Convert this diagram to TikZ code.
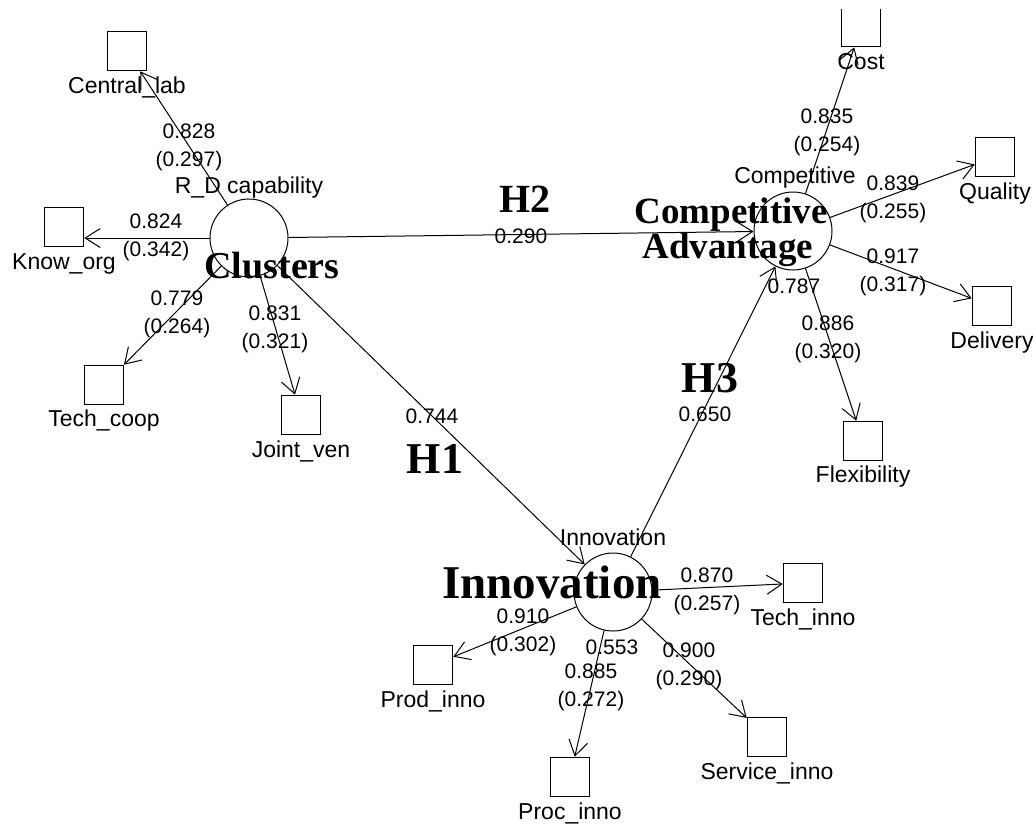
\documentclass[tikz,border=0pt]{standalone}
\usepackage{fontspec}
\setmainfont{Liberation Serif}
\setsansfont{Liberation Sans}
\usetikzlibrary{arrows.meta}

\tikzset{
  item/.style={draw, line width=1.6pt, minimum size=39pt, inner sep=0pt},
  construct/.style={draw, circle, line width=1pt, minimum size=78pt, inner sep=0pt},
  path line/.style={line width=1pt, -{Straight Barb[length=15pt,width=19pt,line width=1pt]}},
  tag/.style={font=\sffamily\fontsize{23}{27}\selectfont, anchor=base, inner sep=0pt},
  coef/.style={font=\sffamily\fontsize{21}{25}\selectfont, anchor=base, inner sep=0pt},
  bigname/.style={font=\bfseries\fontsize{38}{40}\selectfont, anchor=base, inner sep=0pt},
}

% loading (weight) pair: name, x, y of first baseline, loading, weight
\newcommand{\loading}[5]{%
  \node[coef] (#1l) at (#2,#3) {#4};
  \node[coef] (#1w) at (#2,#3+28) {(#5)};
}

\begin{document}
\begin{tikzpicture}[x=1pt,y=-1pt]
  \useasboundingbox (0,0) rectangle (1033,823);
  \clip (0,9) rectangle (1033,823);

  %%%%% constructs %%%%%
  \node[construct] (clu)  at (249,238) {};
  \node[construct] (comp) at (793,231) {};
  \node[construct] (inno) at (613,592) {};

  \node[tag] (clun)  at (249,193) {R\_D capability};
  \node[tag] (compn) at (795,183) {Competitive};
  \node[tag] (innon) at (613,545) {Innovation};

  %%%%% indicators %%%%%
  \node[item] (cl)   at (127,51)  {};
  \node[item] (ko)   at (64,227)  {};
  \node[item] (tc)   at (104,385) {};
  \node[item] (jv)   at (301,415) {};
  \node[item] (cost) at (861,27)  {};
  \node[item] (qual) at (995,157) {};
  \node[item] (del)  at (992,306) {};
  \node[item] (flex) at (863,441) {};
  \node[item] (ti)   at (803,583) {};
  \node[item] (pd)   at (433,665) {};
  \node[item] (pc)   at (570,777) {};
  \node[item] (sv)   at (767,737) {};

  \node[tag] (clt)   at ([yshift=-22pt]cl.south)   {Central\_lab};
  \node[tag] (kot)   at ([yshift=-22pt]ko.south)   {Know\_org};
  \node[tag] (tct)   at ([yshift=-21pt]tc.south)   {Tech\_coop};
  \node[tag] (jvt)   at ([yshift=-22pt]jv.south)   {Joint\_ven};
  \node[tag] (costt) at ([yshift=-22pt]cost.south) {Cost};
  \node[tag] (qualt) at ([yshift=-22pt]qual.south) {Quality};
  \node[tag] (delt)  at ([yshift=-22pt]del.south)  {Delivery};
  \node[tag] (flext) at ([yshift=-21pt]flex.south) {Flexibility};
  \node[tag] (tit)   at ([yshift=-22pt]ti.south)   {Tech\_inno};
  \node[tag] (pdt)   at ([yshift=-22pt]pd.south)   {Prod\_inno};
  \node[tag] (pct)   at ([yshift=-22pt]pc.south)   {Proc\_inno};
  \node[tag] (svt)   at ([yshift=-22pt]sv.south)   {Service\_inno};

  %%%%% outer model %%%%%
  \draw[path line] (clu) -- (cl);
  \draw[path line] (clu) -- (clu -| ko.east);
  \draw[path line] (clu) -- (tc);
  \draw[path line] (clu) -- (jv);
  \draw[path line] (comp) -- (cost);
  \draw[path line] (comp) -- (qual);
  \draw[path line] (comp) -- (del);
  \draw[path line] (comp) -- (flex);
  \draw[path line] (inno) -- (ti);
  \draw[path line] (inno) -- (pd);
  \draw[path line] (inno) -- (pc);
  \draw[path line] (inno) -- (sv);

  %%%%% inner model %%%%%
  \draw[path line] (clu) -- (comp);
  \draw[path line] (clu) -- (inno);
  \draw[path line] (inno) -- (comp);

  %%%%% coefficients %%%%%
  \loading{cl}{189}{138}{0.828}{0.297}
  \loading{ko}{156}{228}{0.824}{0.342}
  \loading{tc}{177}{305}{0.779}{0.264}
  \loading{jv}{275}{320}{0.831}{0.321}
  \loading{cost}{827}{123}{0.835}{0.254}
  \loading{qual}{893}{190}{0.839}{0.255}
  \loading{del}{893}{263}{0.917}{0.317}
  \loading{flex}{828}{330}{0.886}{0.320}
  \loading{ti}{707}{582}{0.870}{0.257}
  \loading{pd}{523}{623}{0.910}{0.302}
  \loading{pc}{591}{678}{0.885}{0.272}
  \loading{sv}{689}{657}{0.900}{0.290}

  \node[coef] (htwo)   at (521,243) {0.290};
  \node[coef] (hone)   at (432,423) {0.744};
  \node[coef] (hthree) at (705,421) {0.650};
  \node[coef] (rcomp)  at (794,293) {0.787};
  \node[coef] (rinno)  at (612,654) {0.553};

  %%%%% big names %%%%%
  \node[bigname] (club)   at (272,278) {Clusters};
  \node[bigname, font=\bfseries\fontsize{37}{40}\selectfont] (compb)  at (731,223) {Competitive};
  \node[bigname, font=\bfseries\fontsize{37}{40}\selectfont] (compb2) at (728,258) {Advantage};
  \node[bigname, font=\bfseries\fontsize{47}{50}\selectfont] (innob)  at (552,598) {Innovation};
  \node[bigname, font=\bfseries\fontsize{40}{44}\selectfont] (htwob)  at (525,212) {H2};
  \node[bigname, font=\bfseries\fontsize{44}{48}\selectfont] (honeb)  at (435,473) {H1};
  \node[bigname, font=\bfseries\fontsize{44}{48}\selectfont] (hthreeb) at (710,392) {H3};
\end{tikzpicture}
\end{document}
